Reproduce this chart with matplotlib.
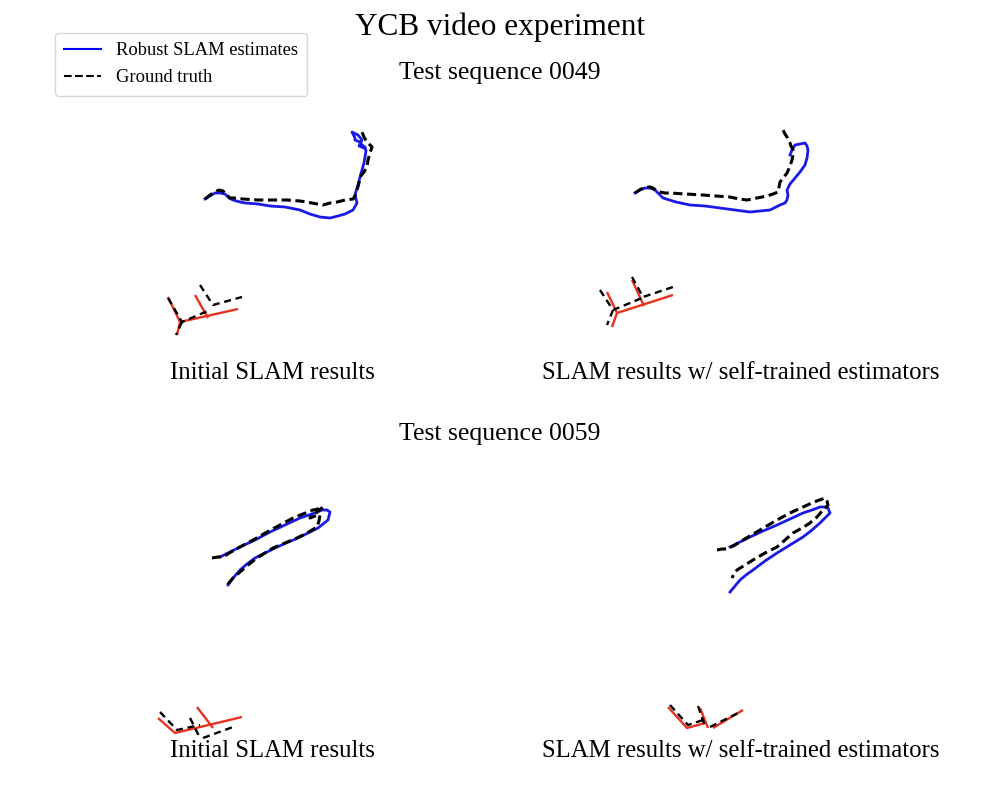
import matplotlib.pyplot as plt
from matplotlib.lines import Line2D
from matplotlib import rcParams

rcParams["font.family"] = ["Liberation Serif", "DejaVu Serif"]

# trajectories, in picture pixel coordinates (x, y down)
est_0049_init = [(205, 199), (210, 196), (215, 193), (220, 193), (225, 194), (229, 198),
                 (233, 200), (240, 202), (245, 203), (258, 204), (270, 206), (285, 207),
                 (300, 210), (310, 214), (320, 217), (330, 218), (338, 216), (345, 214),
                 (353, 210), (357, 203), (355, 195), (357, 188), (358, 185), (360, 177),
                 (362, 170), (364, 163), (365, 157), (366, 151), (365, 147), (362, 145),
                 (360, 142), (355, 140), (355, 138), (352, 132), (356, 134), (358, 135),
                 (362, 140), (359, 146), (364, 148)]
gt_0049_init = [(205, 199), (210, 195), (215, 192), (219, 190), (223, 191), (227, 195),
                (230, 198), (236, 198), (243, 199), (258, 200), (273, 200), (287, 200),
                (300, 201), (312, 203), (323, 205), (330, 203), (337, 202), (345, 200),
                (353, 199), (356, 194), (357, 190), (359, 183), (360, 177), (364, 172),
                (367, 167), (368, 160), (370, 153), (371, 150), (372, 147), (369, 144),
                (367, 142), (364, 137), (362, 132), (364, 129)]
est_0049_self = [(635, 193), (640, 190), (645, 188), (650, 188), (655, 190), (660, 195),
                 (663, 198), (676, 202), (690, 205), (705, 206), (720, 208), (735, 210),
                 (750, 212), (760, 211), (770, 210), (776, 207), (780, 205), (785, 203),
                 (787, 200), (788, 195), (787, 190), (790, 184), (795, 178), (800, 172),
                 (805, 165), (807, 158), (808, 150), (807, 146), (805, 143), (800, 144),
                 (795, 145), (792, 150), (790, 155)]
gt_0049_self = [(635, 193), (641, 189), (647, 187), (650, 187), (653, 188), (657, 191),
                (660, 192), (665, 193), (670, 193), (686, 194), (703, 195), (716, 196),
                (730, 197), (739, 199), (747, 200), (757, 198), (767, 196), (773, 194),
                (778, 192), (779, 187), (780, 182), (784, 177), (787, 173), (790, 166),
                (792, 160), (793, 155), (793, 150), (791, 146), (790, 143), (788, 140),
                (787, 137), (785, 134), (783, 130)]
est_0059_init = [(220, 557), (230, 552), (240, 547), (255, 540), (270, 532), (285, 525),
                 (300, 518), (312, 514), (322, 510), (327, 510), (330, 512), (329, 516),
                 (328, 520), (323, 524), (318, 528), (308, 533), (298, 538), (286, 543),
                 (275, 548), (265, 553), (255, 558), (247, 564), (240, 570), (234, 577),
                 (228, 585)]
gt_0059_init = [(212, 558), (218, 557), (223, 557), (231, 552), (240, 547), (253, 540),
                (267, 532), (280, 525), (293, 518), (303, 514), (313, 510), (318, 509),
                (323, 507), (316, 513), (310, 518), (315, 516), (320, 515), (319, 521),
                (317, 527), (307, 533), (297, 538), (285, 543), (273, 548), (265, 553),
                (257, 558), (248, 565), (240, 572), (233, 578), (227, 585)]
est_0059_self = [(730, 547), (740, 542), (750, 537), (763, 531), (777, 525), (790, 519),
                 (803, 513), (812, 510), (820, 507), (824, 507), (828, 508), (830, 513),
                 (825, 518), (820, 523), (812, 530), (803, 537), (790, 545), (777, 553),
                 (765, 561), (753, 570), (746, 575), (740, 580), (735, 586), (730, 592)]
gt_0059_self = [(717, 550), (722, 549), (727, 549), (735, 545), (743, 540), (760, 530),
                (777, 520), (790, 513), (803, 507), (814, 502), (825, 498), (827, 501),
                (828, 505), (822, 511), (817, 517), (813, 520), (810, 523), (802, 528),
                (793, 533), (785, 540), (777, 547), (765, 553), (753, 560), (745, 565),
                (737, 570), (734, 574), (732, 578)]

# object pose frames (segments)
obj_est_0049_init = [[(168, 297), (180, 322), (238, 309)], [(180, 322), (177, 335)],
                     [(195, 295), (208, 318)]]
obj_gt_0049_init = [[(168, 298), (182, 322), (210, 310)], [(182, 322), (176, 335)],
                    [(200, 285), (213, 305), (242, 297)]]
obj_est_0049_self = [[(607, 292), (617, 313), (673, 295)], [(617, 313), (612, 327)],
                     [(632, 280), (644, 306)]]
obj_gt_0049_self = [[(600, 290), (613, 310), (642, 298)], [(613, 310), (607, 325)],
                    [(632, 277), (643, 297), (673, 287)]]
obj_est_0059_init = [[(158, 718), (175, 733), (242, 717)], [(197, 707), (213, 728)]]
obj_gt_0059_init = [[(160, 712), (177, 730), (200, 725)], [(190, 718), (200, 738)],
                    [(203, 738), (233, 727)]]
obj_est_0059_self = [[(668, 707), (687, 728), (705, 723)], [(700, 708), (708, 728)],
                     [(713, 728), (743, 710)]]
obj_gt_0059_self = [[(670, 705), (688, 725), (703, 720)], [(698, 706), (705, 726)],
                    [(710, 727), (740, 712)]]

titles = ["Initial SLAM results", "SLAM results w/ self-trained estimators"]
sequences = ["Test sequence 0049", "Test sequence 0059"]

W, H = 1000, 800
BLUE = "#1a1ae6"
RED = "#e8311f"


def add_panel(fig, box, est, gt, obj_est, obj_gt):
    x0, y0, x1, y1 = box
    ax = fig.add_axes([x0 / W, 1 - y1 / H, (x1 - x0) / W, (y1 - y0) / H])
    ax.set_xlim(x0, x1)
    ax.set_ylim(y1, y0)
    ax.axis("off")
    for seg in obj_est:
        ax.plot(*zip(*seg), c=RED, lw=1.7, solid_capstyle="butt")
    for seg in obj_gt:
        ax.plot(*zip(*seg), c="black", lw=1.7, ls=(0, (3, 2)))
    ax.plot(*zip(*est), c=BLUE, lw=2.0)
    ax.plot(*zip(*gt), c="black", lw=2.2, ls=(0, (3, 1.5)))
    return ax


fig = plt.figure(figsize=(10, 8), dpi=100)

add_panel(fig, (140, 110, 400, 350), est_0049_init, gt_0049_init,
          obj_est_0049_init, obj_gt_0049_init)
add_panel(fig, (580, 110, 840, 350), est_0049_self, gt_0049_self,
          obj_est_0049_self, obj_gt_0049_self)
add_panel(fig, (140, 480, 400, 750), est_0059_init, gt_0059_init,
          obj_est_0059_init, obj_gt_0059_init)
add_panel(fig, (640, 480, 860, 750), est_0059_self, gt_0059_self,
          obj_est_0059_self, obj_gt_0059_self)

fig.text(0.5, 1 - 27 / H, "YCB video experiment", ha="center", va="center", size=22.5)
fig.text(0.5, 1 - 73 / H, sequences[0], ha="center", va="center", size=18.5)
fig.text(0.5, 1 - 434 / H, sequences[1], ha="center", va="center", size=18.5)
for yy in (373, 751):
    fig.text(272 / W, 1 - yy / H, titles[0], ha="center", va="center", size=17.8)
    fig.text(741 / W, 1 - yy / H, titles[1], ha="center", va="center", size=17.8)

handles = [Line2D([], [], c="blue", lw=1.5),
           Line2D([], [], c="black", lw=1.5, ls="--")]
fig.legend(handles, ["Robust SLAM estimates", "Ground truth"],
           loc="upper left", bbox_to_anchor=(55 / W, 1 - 33 / H), fontsize=13.3,
           frameon=True, fancybox=True, borderaxespad=0, labelspacing=0.55,
           borderpad=0.5)

fig.savefig("out.png", dpi=100)
